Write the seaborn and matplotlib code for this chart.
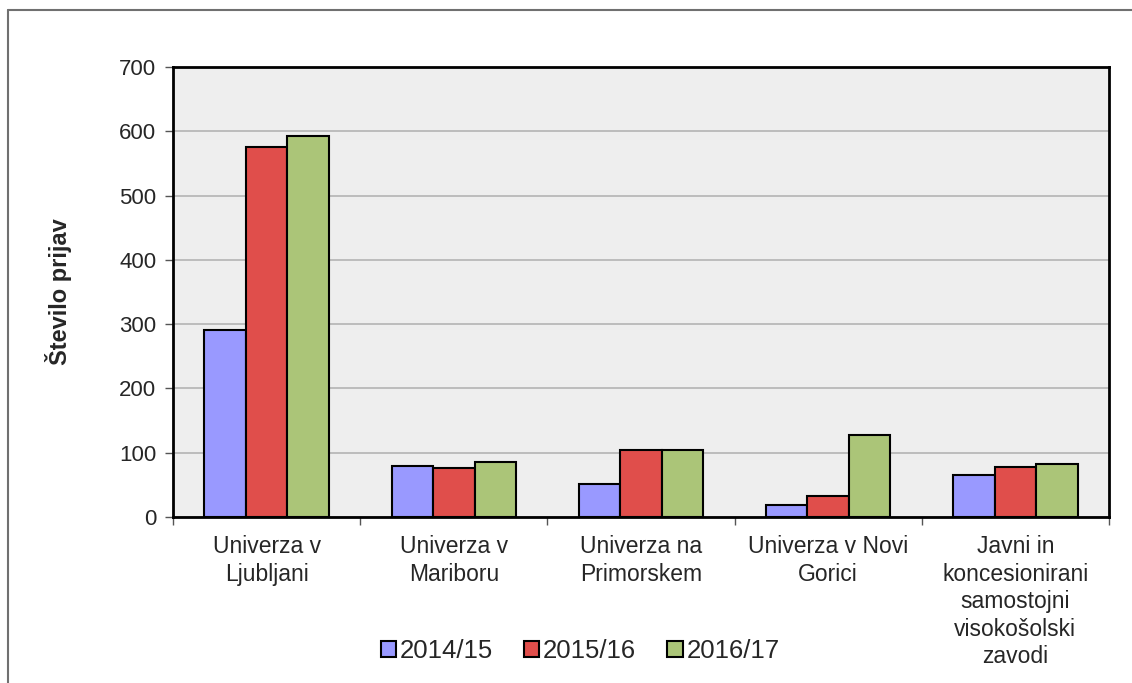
import pandas as pd
import matplotlib.pyplot as plt
import seaborn as sns
from matplotlib.lines import Line2D

# categories and seasons
institutions = ["Univerza v\nLjubljani", "Univerza v\nMariboru", "Univerza na\nPrimorskem",
                "Univerza v Novi\nGorici",
                "Javni in\nkoncesionirani\nsamostojni\nvisokošolski\nzavodi"]
seasons = ["2014/15", "2015/16", "2016/17"]

# number of applications per season
prijave_1415 = [291, 79, 52, 19, 66]
prijave_1516 = [575, 77, 105, 33, 78]
prijave_1617 = [592, 85, 105, 127, 82]

colors = ["#9999FF", "#E04E4B", "#ABC578"]

df = pd.DataFrame({
    "Institution": institutions * 3,
    "Season": [s for s in seasons for _ in institutions],
    "Prijave": prijave_1415 + prijave_1516 + prijave_1617,
})

sns.set_style("white")
plt.rcParams['font.family'] = ['Liberation Sans', 'DejaVu Sans']

fig = plt.figure(figsize=(11.32, 6.83), dpi=100)
ax = fig.add_axes([173/1132, 1 - 517/683, (1109-173)/1132, (517-67)/683])
ax.set_facecolor("#EEEEEE")

sns.barplot(data=df, x="Institution", y="Prijave", hue="Season", order=institutions,
            hue_order=seasons, palette=colors, width=0.665, edgecolor="black",
            linewidth=1.5, saturation=1, ax=ax, zorder=3)

ax.set_ylim(0, 700)
ax.set_xlim(-0.5, 4.5)
ax.set_yticks(range(0, 701, 100))
ax.yaxis.grid(True, color="#B4B4B4", linewidth=1.2, zorder=0)
ax.set_axisbelow(True)

for sp in ax.spines.values():
    sp.set_visible(True)
    sp.set_color("black")
    sp.set_linewidth(2)

ax.tick_params(axis="y", direction="out", length=6, width=1, color="#555555",
               labelsize=16, pad=6, left=True)
ax.set_xticks(range(5))
ax.set_xticklabels(institutions, fontsize=16.5, linespacing=1.25)
ax.tick_params(axis="x", which="major", length=0, pad=13)
ax.set_xticks([i - 0.5 for i in range(6)], minor=True)
ax.tick_params(axis="x", which="minor", direction="out", length=6, width=1,
               color="#555555", bottom=True)

ax.set_xlabel("")
ax.set_ylabel("Število prijav", fontsize=17, fontweight="bold", labelpad=34)

handles, labels = ax.get_legend_handles_labels()
ax.get_legend().remove()
fig.legend(handles, labels, loc="center", bbox_to_anchor=(580/1132, 1 - 651/683),
           ncol=3, frameon=False, fontsize=18.5, handlelength=0.6, handleheight=0.6,
           handletextpad=0.15, columnspacing=1.2)

# outer chart frame
fig.add_artist(Line2D([8/1132, 1], [1 - 10/683, 1 - 10/683], color="#707070",
                      linewidth=1.5, transform=fig.transFigure))
fig.add_artist(Line2D([8/1132, 8/1132], [0, 1 - 10/683], color="#707070",
                      linewidth=1.5, transform=fig.transFigure))

plt.savefig("out.png", dpi=100)
